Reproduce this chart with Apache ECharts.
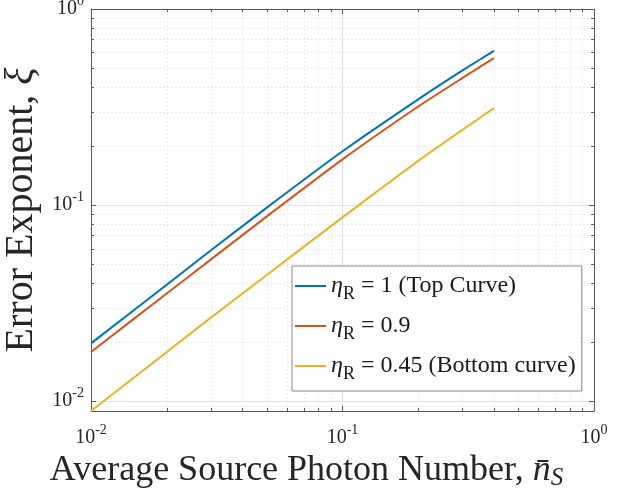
<!DOCTYPE html>
<html>
<head>
<meta charset="utf-8">
<script src="https://cdn.jsdelivr.net/npm/echarts@6/dist/echarts.min.js"></script>
<style>
html,body{margin:0;padding:0;background:#fff;}
#chart{width:634px;height:493px;}
</style>
</head>
<body>
<div id="chart"></div>
<script>
// ---- data ----
const nS = [0.01, 0.02, 0.03, 0.05, 0.1, 0.2, 0.3, 0.4];
const xiEta1 = [0.0197, 0.0392, 0.0588, 0.097, 0.188, 0.346, 0.486, 0.612];
const xiEta09 = [0.0178, 0.0354, 0.0528, 0.0875, 0.171, 0.318, 0.445, 0.562];
const xiEta045 = [0.0089, 0.0178, 0.0267, 0.044, 0.0865, 0.168, 0.242, 0.312];
const seriesNames = ['eta1', 'eta09', 'eta045'];
const legendTexts = [' = 1 (Top Curve)', ' = 0.9', ' = 0.45 (Bottom curve)'];
const xMinorTicks = [0.02,0.03,0.04,0.05,0.06,0.07,0.08,0.09,0.2,0.3,0.4,0.5,0.6,0.7,0.8,0.9];
const yMinorTicks = [0.02,0.03,0.04,0.05,0.06,0.07,0.08,0.09,0.2,0.3,0.4,0.5,0.6,0.7,0.8,0.9];
const X_MIN = 0.01, X_MAX = 1, Y_MIN = 0.0089, Y_MAX = 1;

const FONT = 'Liberation Serif';
const AX = '#5a5a5a';
const colors = ['#0072BD', '#D95319', '#EDB120'];

function pow10Label(v) {
  const e = Math.log10(v);
  const r = Math.round(e);
  if (Math.abs(e - r) > 0.01) return '';
  return '{b|10}{sup|' + r + '}';
}
const tickRich = {
  b: {fontFamily: FONT, fontSize: 20, color: '#262626'},
  sup: {fontFamily: FONT, fontSize: 14, color: '#262626', padding: [0, 0, 16, 0]}
};

const chart = echarts.init(document.getElementById('chart'), null, {renderer: 'canvas'});

function toPairs(xs, ys) { return xs.map((x, i) => [x, ys[i]]); }

function minorX(params, api) {
  const x = api.value(0);
  const pb = api.coord([x, Y_MIN]);
  const pt = api.coord([x, Y_MAX]);
  const px = Math.round(pb[0]) + 0.5;
  return {type: 'group', children: [
    {type: 'line', shape: {x1: px, y1: pb[1], x2: px, y2: pt[1]}, style: {stroke: '#ebebeb', lineWidth: 1, lineDash: [2, 2]}},
    {type: 'line', shape: {x1: px, y1: pb[1], x2: px, y2: pb[1] - 3}, style: {stroke: AX, lineWidth: 1}},
    {type: 'line', shape: {x1: px, y1: pt[1], x2: px, y2: pt[1] + 3}, style: {stroke: AX, lineWidth: 1}}
  ]};
}
function minorY(params, api) {
  const y = api.value(1);
  const pl = api.coord([X_MIN, y]);
  const pr = api.coord([X_MAX, y]);
  const py = Math.round(pl[1]) + 0.5;
  return {type: 'group', children: [
    {type: 'line', shape: {x1: pl[0], y1: py, x2: pr[0], y2: py}, style: {stroke: '#ebebeb', lineWidth: 1, lineDash: [2, 2]}},
    {type: 'line', shape: {x1: pl[0], y1: py, x2: pl[0] + 3, y2: py}, style: {stroke: AX, lineWidth: 1}},
    {type: 'line', shape: {x1: pr[0], y1: py, x2: pr[0] - 3, y2: py}, style: {stroke: AX, lineWidth: 1}}
  ]};
}

const option = {
  animation: false,
  backgroundColor: '#ffffff',
  grid: {left: 91, right: 40, top: 9, bottom: 82, containLabel: false, outerBoundsMode: 'none'},
  legend: {
    data: seriesNames.map(n => ({name: n, icon: 'rect'})),
    orient: 'vertical',
    left: 292, top: 266,
    padding: [8, 6, 8, 3],
    itemGap: 11,
    itemWidth: 31,
    itemHeight: 2,
    backgroundColor: '#ffffff',
    borderColor: '#8a8a8a',
    borderWidth: 1,
    formatter: function (name) {
      const i = seriesNames.indexOf(name);
      return '{e|η}{s|R}{t|' + legendTexts[i] + '}';
    },
    textStyle: {
      fontFamily: FONT, fontSize: 24, color: '#1a1a1a',
      rich: {
        e: {fontFamily: FONT, fontStyle: 'italic', fontSize: 24, color: '#1a1a1a'},
        s: {fontFamily: FONT, fontSize: 18, color: '#1a1a1a', padding: [16, 0, 0, 0]},
        t: {fontFamily: FONT, fontSize: 24, color: '#1a1a1a'}
      }
    }
  },
  xAxis: [{
    type: 'log', logBase: 10, min: X_MIN, max: X_MAX,
    position: 'bottom',
    axisLine: {show: true, lineStyle: {color: AX, width: 1}},
    axisTick: {show: true, inside: true, length: 5, lineStyle: {color: AX}},
    axisLabel: {formatter: pow10Label, rich: tickRich, margin: 12},
    splitLine: {show: true, lineStyle: {color: '#e2e2e2', width: 1}},
    name: '{t|Average Source Photon Number, }{i|n\u0304}{s|S}',
    nameLocation: 'middle',
    nameGap: 36,
    nameTextStyle: {
      padding: [0, 72, 0, 0],
      rich: {
        t: {fontFamily: FONT, fontSize: 36, color: '#262626'},
        i: {fontFamily: FONT, fontStyle: 'italic', fontSize: 36, color: '#262626'},
        s: {fontFamily: FONT, fontStyle: 'italic', fontSize: 25, color: '#262626', padding: [16, 0, 0, 0]}
      }
    }
  }, {
    type: 'log', logBase: 10, min: X_MIN, max: X_MAX,
    position: 'top',
    axisLine: {show: true, lineStyle: {color: AX, width: 1}},
    axisTick: {show: true, inside: true, length: 5, lineStyle: {color: AX}},
    axisLabel: {show: false},
    splitLine: {show: false}
  }],
  yAxis: [{
    type: 'log', logBase: 10, min: Y_MIN, max: Y_MAX,
    position: 'left',
    axisLine: {show: true, lineStyle: {color: AX, width: 1}},
    axisTick: {show: true, inside: true, length: 5, lineStyle: {color: AX}},
    axisLabel: {formatter: pow10Label, rich: tickRich, margin: 7},
    splitLine: {show: true, lineStyle: {color: '#e2e2e2', width: 1}},
    name: '{t|Error Exponent, }{i|ξ}',
    nameLocation: 'middle',
    nameGap: 44,
    nameTextStyle: {
      rich: {
        t: {fontFamily: FONT, fontSize: 40, color: '#262626'},
        i: {fontFamily: FONT, fontStyle: 'italic', fontSize: 40, color: '#262626'}
      }
    }
  }, {
    type: 'log', logBase: 10, min: Y_MIN, max: Y_MAX,
    position: 'right',
    axisLine: {show: true, lineStyle: {color: AX, width: 1}},
    axisTick: {show: true, inside: true, length: 5, lineStyle: {color: AX}},
    axisLabel: {show: false},
    splitLine: {show: false}
  }],
  series: [
    {type: 'custom', name: 'minorX', renderItem: minorX, data: xMinorTicks.map(v => [v, Y_MAX]), z: 1, silent: true, clip: false},
    {type: 'custom', name: 'minorY', renderItem: minorY, data: yMinorTicks.map(v => [X_MAX, v]), z: 1, silent: true, clip: false},
    {type: 'line', name: seriesNames[0], data: toPairs(nS, xiEta1), symbol: 'none', smooth: 0.2, lineStyle: {color: colors[0], width: 2}, itemStyle: {color: colors[0]}, z: 5},
    {type: 'line', name: seriesNames[1], data: toPairs(nS, xiEta09), symbol: 'none', smooth: 0.2, lineStyle: {color: colors[1], width: 2}, itemStyle: {color: colors[1]}, z: 5},
    {type: 'line', name: seriesNames[2], data: toPairs(nS, xiEta045), symbol: 'none', smooth: 0.2, lineStyle: {color: colors[2], width: 2}, itemStyle: {color: colors[2]}, z: 5}
  ]
};
chart.setOption(option);
</script>
</body>
</html>
